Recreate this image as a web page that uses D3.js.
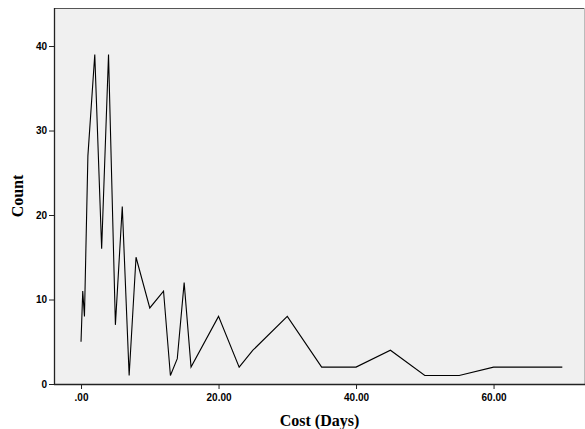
<!DOCTYPE html>
<html><head><meta charset="utf-8">
<script src="https://cdn.jsdelivr.net/npm/d3@7"></script>
<style>body{margin:0;background:#fff}svg{display:block}</style>
</head><body>
<script>
const costDays = [0, 0.25, 0.5, 1, 2, 3, 4, 5, 6, 7, 8, 10, 12, 13, 14, 15, 16, 20, 23, 25, 30, 35, 40, 45, 50, 55, 60, 70];
const counts   = [5, 11, 8, 27, 39, 16, 39, 7, 21, 1, 15, 9, 11, 1, 3, 12, 2, 8, 2, 4, 8, 2, 2, 4, 1, 1, 2, 2];
const xTicks = [0, 20, 40, 60];
const yTicks = [0, 10, 20, 30, 40];

const W = 585, H = 429;
const L = 54, T = 8, R = 585, B = 384;
const svg = d3.select("body").append("svg").attr("width", W).attr("height", H);

const x = d3.scaleLinear().domain([-3.93, 73.3]).range([L, R]);
const y = d3.scaleLinear().domain([0, 44.5]).range([B, T]);

svg.append("rect").attr("x", L).attr("y", T).attr("width", R - L).attr("height", B - T)
  .attr("fill", "#f0f0f0").attr("stroke", "none");
svg.append("line").attr("x1", L).attr("x2", R).attr("y1", T + 0.5).attr("y2", T + 0.5)
  .attr("stroke", "#555").attr("stroke-width", 1.2);
svg.append("line").attr("x1", R - 0.5).attr("x2", R - 0.5).attr("y1", T).attr("y2", B)
  .attr("stroke", "#bbb").attr("stroke-width", 1);

const line = d3.line().x((d, i) => x(costDays[i])).y(d => y(d));
svg.append("path").datum(counts).attr("d", line)
  .attr("fill", "none").attr("stroke", "#000").attr("stroke-width", 1.1).attr("stroke-linejoin", "miter");

const fmtX = v => v === 0 ? ".00" : d3.format(".2f")(v);
const xAxis = svg.append("g").attr("transform", `translate(0,${B})`)
  .call(d3.axisBottom(x).tickValues(xTicks).tickFormat(fmtX).tickSize(5).tickSizeOuter(0));
const yAxis = svg.append("g").attr("transform", `translate(${L},0)`)
  .call(d3.axisLeft(y).tickValues(yTicks).tickFormat(d3.format("d")).tickSize(5).tickSizeOuter(0));

[xAxis, yAxis].forEach(g => {
  g.select(".domain").attr("stroke", "#222").attr("stroke-width", 1.3);
  g.selectAll(".tick line").attr("stroke", "#222").attr("stroke-width", 1);
  g.selectAll("text").attr("font-family", "'Liberation Sans', Arial, sans-serif")
    .attr("font-weight", "bold").attr("font-size", "10px").attr("fill", "#000");
});
xAxis.select(".domain").attr("d", `M${L},0.5H${R}`);
yAxis.select(".domain").attr("d", `M0.5,${T}V${B}`);
xAxis.selectAll(".tick text").attr("dy", "0.85em");
yAxis.selectAll(".tick text").attr("x", -7);

svg.append("text").attr("x", (L + R) / 2).attr("y", 426)
  .attr("text-anchor", "middle").attr("font-family", "'Liberation Serif', 'Times New Roman', serif")
  .attr("font-weight", "bold").attr("font-size", "16px").text("Cost (Days)");
svg.append("text").attr("transform", `translate(23,${(T + B) / 2}) rotate(-90)`)
  .attr("text-anchor", "middle").attr("font-family", "'Liberation Serif', 'Times New Roman', serif")
  .attr("font-weight", "bold").attr("font-size", "16px").text("Count");
</script>
</body></html>
